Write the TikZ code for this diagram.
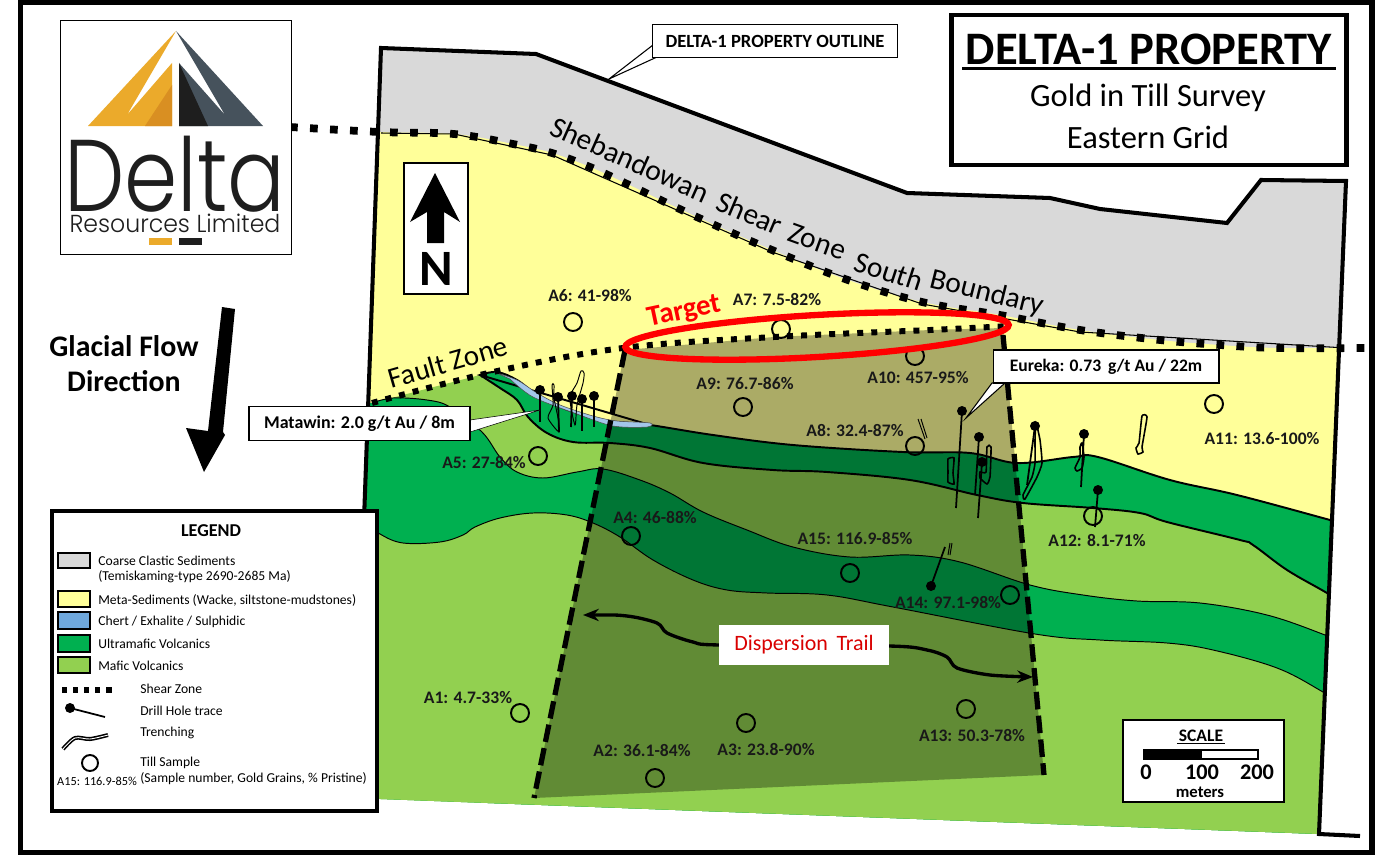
\documentclass[tikz,border=0pt]{standalone}
\usepackage{fontspec}
\setmainfont{Carlito}
\newfontfamily\logofont{Poppins Light}
\usetikzlibrary{arrows.meta}
\definecolor{clastic}{HTML}{D9D9D9}
\definecolor{metased}{HTML}{FFFF99}
\definecolor{chert}{HTML}{A3C6EA}
\definecolor{chertkey}{HTML}{6FA8DC}
\definecolor{ultra}{HTML}{00B050}
\definecolor{mafic}{HTML}{92D050}
\definecolor{logogold}{HTML}{EBAA2B}
\definecolor{logoamber}{HTML}{D98F22}
\definecolor{logoslate}{HTML}{46525C}
\definecolor{logoblack}{HTML}{1E1E1E}
\tikzset{
  sz/.style={font=\fontsize{#1}{#1}\selectfont},
  bsz/.style={font=\bfseries\fontsize{#1}{#1}\selectfont},
  sample/.style={bsz=10,inner sep=0pt,text=black!90},
  till/.style={circle,draw=black,line width=1.1pt,minimum size=.36cm,inner sep=0pt},
  hole/.style={line width=1pt},
  holedot/.style={circle,fill=black,minimum size=.2cm,inner sep=0pt},
  trench/.style={line width=.55pt,draw=black},
  shearline/.style={line width=4.4pt,dash pattern=on 4.4pt off 7pt},
  faultline/.style={line width=3.4pt,dash pattern=on 3.4pt off 4.6pt},
  traillimit/.style={line width=3pt,dash pattern=on 10pt off 3.6pt},
  callout/.style={draw=black,line width=.6pt,fill=white},
  keybox/.style={draw=black,line width=1.4pt},
  keytext/.style={sz=7.75,anchor=west,inner sep=0pt},
  shearword/.style={sz=16.8,anchor=base west,inner sep=0pt},
}
\def\bound{(381,48) -- (536,54) -- (907,193) -- (1050,198) -- (1100,209) -- (1227,223) -- (1261,180) -- (1346,181) -- (1319,834)}
\def\shearcurve{plot[smooth,tension=.6] coordinates {(290,127) (380,132) (454,134) (513,144) (552,153) (590,167) (625,183) (699,218) (772,250) (845,279) (922,302) (1000,315) (1080,330) (1160,340) (1220,345) (1277,348) (1365,348)}}
\def\faultcurve{plot[smooth,tension=.6] coordinates {(372,403) (493,372) (623,348) (774,337) (930,330) (1010,326)}}
\def\linetop{-- plot[smooth,tension=.6] coordinates {(480,375) (497,372) (517,380) (537,395) (560,407) (593,418) (617,422) (650,425) (713,435) (793,445) (903,452) (970,453) (1017,463) (1073,457) (1098,457) (1170,480) (1237,495) (1330,520) (1365,530)}}
\def\lineB{-- plot[smooth,tension=.6] coordinates {(480,375) (500,388) (517,400) (528,417) (547,433) (573,442) (610,443) (650,448) (703,463) (773,470) (827,472) (910,480) (977,495) (1023,503) (1093,508) (1140,513) (1167,522) (1240,540) (1253,545) (1287,570) (1327,593) (1365,616)}}
\def\lineC{-- plot[smooth,tension=.6] coordinates {(372,403) (393,398) (427,400) (450,407) (482,432) (500,457) (517,472) (543,478) (577,472) (603,469) (640,480) (670,493) (703,512) (747,530) (793,547) (850,557) (910,555) (960,562) (1030,585) (1083,595) (1137,601) (1200,603) (1267,615) (1325,635) (1365,652)}}
\def\lineD{-- plot[smooth,tension=.6] coordinates {(362,520) (380,534) (403,543) (440,542) (463,535) (475,527) (500,518) (533,513) (567,515) (593,523) (620,537) (653,560) (693,580) (727,590) (767,593) (827,595) (893,607) (1035,634) (1100,640) (1167,643) (1213,650) (1277,668) (1323,692) (1365,718)}}
\begin{document}
\begin{tikzpicture}[x=.02cm,y=-.02cm]
\useasboundingbox (0,0) rectangle (1375,855);
\fill[white] (0,0) rectangle (1375,855);

% geology
\begin{scope}
\clip \bound -- (354,798) -- cycle;
\fill[clastic] (300,20) rectangle (1400,900);
\fill[metased] \shearcurve -- (1400,348) -- (1400,900) -- (290,900) -- cycle;
\fill[ultra] (480,900) -- (480,375) \linetop -- (1400,900) -- cycle;
\fill[mafic] (300,420) -- (372,403) -- (480,375) \lineB -- (1400,900) -- (300,900) -- cycle;
\fill[ultra] (300,403) -- (372,403) \lineC -- (1400,900) -- (300,900) -- cycle;
\fill[mafic] (300,520) -- (362,520) \lineD -- (1400,900) -- (300,900) -- cycle;
\draw[line width=.55pt] (372,403) \lineC;
\draw[line width=.55pt] (362,520) \lineD;
\draw[line width=1.1pt] (650,425) \linetop;
\draw[line width=1.1pt] (480,375) \lineB;
\draw[line width=.6pt] (381,133) -- (454,134) -- (552,155) -- (772,252) -- (922,304) -- (1080,332) -- (1346,348);
\end{scope}

% dispersion trail
\fill[black,fill opacity=.33] (625,350) -- (774,337) -- (930,330) -- (1003,328) -- (1044,775) -- (534,798) -- cycle;
\fill[chert,draw=black!70,line width=.3pt] plot[smooth,tension=.5] coordinates {(494,372) (517,380) (537,393) (560,405) (593,416) (617,421) (650,423) (647,427) (613,426) (577,414) (533,397) (510,379)} -- cycle;

% boundaries
\draw[line width=2.3pt,line join=miter] (364,520) -- \bound -- (1360,836);
\draw[shearline] \shearcurve;
\draw[faultline] \faultcurve;
\draw[traillimit] (625,350) -- (534,798);
\draw[traillimit] (1003,335) -- (1044,775);

% trenches
\draw[trench] plot[smooth cycle,tension=.5] coordinates {(581,371) (577,383) (570,398) (575,425) (577,405) (583,383) (584,373)};
\draw[trench] plot[smooth cycle,tension=.4] coordinates {(552,385) (554,385) (554,398) (558,418) (559,432) (548,418) (553,405)};
\draw[trench] (918,419) -- (925,439) (921,419) -- (927,438);
\draw[trench,line width=.9pt] plot[smooth cycle,tension=.3] coordinates {(948,459) (954,458) (953,473) (954,484) (948,482) (948,472)};
\draw[trench,line width=.9pt] plot[smooth cycle,tension=.3] coordinates {(987,447) (991,447) (990,477) (987,484) (980,478) (980,472) (986,472)};
\draw[trench,line width=.9pt] plot[smooth cycle,tension=.3] coordinates {(1036,423) (1040,440) (1042,463) (1037,477) (1025,499) (1023,495) (1032,477) (1035,463) (1035,440)};
\draw[trench,line width=.9pt] plot[smooth cycle,tension=.3] coordinates {(1082,443) (1084,457) (1082,468) (1077,471) (1075,468) (1080,457) (1080,447)};
\draw[trench,line width=.9pt] plot[smooth cycle,tension=.3] coordinates {(1142,416) (1147,417) (1142,447) (1143,452) (1138,454) (1136,448) (1139,443)};
\draw[trench] (950,543) -- (948,555) (952,543) -- (950,555);

% drill holes
\foreach \top/\bot/\nm in {{(540,390)}/{(540,422)}/ma,{(558,397)}/{(559,432)}/mb,{(572,396)}/{(571,427)}/mc,{(582,399)}/{(582,431)}/md,{(594,396)}/{(594,427)}/me,{(962,411)}/{(956,508)}/ea,{(979,437)}/{(975,495)}/eb,{(982,462)}/{(978,518)}/ec,{(1035,426)}/{(1027,485)}/ed,{(1084,434)}/{(1081,487)}/ee,{(1098,490)}/{(1095,527)}/ef,{(931,586)}/{(945,547)}/eg}{
  \node[holedot] (dh\nm) at \top {};
  \draw[hole] (dh\nm.center) -- \bot;
}

% till samples
\foreach \nm/\px/\py in {a1/520/713,a2/655/778,a3/746/723,a4/631/536,a5/538/456,a6/573/322,a7/781/329,a8/915/446,a9/743/407,a10/915/356,a11/1214/404,a12/1093/516,a13/966/709,a14/1010/595,a15/850/573}{
  \node[till] (\nm) at (\px,\py) {};
}
\node[sample] (la1) at (468,698) {A1: 4.7-33\%};
\node[sample] (la2) at (642,750) {A2: 36.1-84\%};
\node[sample] (la3) at (766,749) {A3: 23.8-90\%};
\node[sample] (la4) at (655,518) {A4: 46-88\%};
\node[sample] (la5) at (484,463) {A5: 27-84\%};
\node[sample] (la6) at (590,296) {A6: 41-98\%};
\node[sample] (la7) at (777,300) {A7: 7.5-82\%};
\node[sample] (la8) at (855,431) {A8: 32.4-87\%};
\node[sample] (la9) at (745,384) {A9: 76.7-86\%};
\node[sample] (la10) at (918,378) {A10: 457-95\%};
\node[sample] (la11) at (1262,439) {A11: 13.6-100\%};
\node[sample] (la12) at (1097,541) {A12: 8.1-71\%};
\node[sample] (la13) at (972,735) {A13: 50.3-78\%};
\node[sample] (la14) at (948,603) {A14: 97.1-98\%};
\node[sample] (la15) at (855,539) {A15: 116.9-85\%};

% target
\draw[red,line width=3.6pt,rotate around={3.3:(817,336)}] (817,336) ellipse (192 and 21);
\node[bsz=16.5,text=red,rotate=12,inner sep=0pt] (target) at (684,312) {Target};
\node[sz=16.5,rotate=16,inner sep=0pt] (faultzone) at (448,362) {Fault Zone};
\node[shearword,rotate=-24] (wsheb) at (548,134) {Shebandowan};
\node[shearword,rotate=-23] (wshear) at (714,209) {Shear};
\node[shearword,rotate=-20] (wzone) at (786,240) {Zone};
\node[shearword,rotate=-18] (wsouth) at (852,270) {South};
\node[shearword,rotate=-14] (wbound) at (928,287) {Boundary};

% trail arrow
\coordinate (trailw) at (583,615);
\coordinate (traile) at (1033,677);
\draw[line width=1.9pt,{Stealth[length=9pt,width=7pt]}-{Stealth[length=9pt,width=7pt]}] plot[smooth,tension=.5] coordinates {(trailw) (627,616) (657,623) (667,633) (693,642) (720,645) (889,646) (927,650) (947,657) (957,668) (990,675) (traile)};
\node[fill=white,text=red!85!black,sz=12.5,minimum width=3.4cm,minimum height=.8cm,inner sep=0pt] (trailbox) at (804,645) {Dispersion\, Trail};

% callouts
\coordinate (outlinetip) at (609,79);
\coordinate (matawintip) at (540,410);
\coordinate (eurekatip) at (966,418);
\draw[callout] (outlinetip) -- (653,45) -- (657,57) -- cycle;
\node[callout,bsz=10.6,minimum width=4.9cm,minimum height=.66cm,inner sep=0pt] (outlinebox) at (775,41) {DELTA-1 PROPERTY OUTLINE};
\draw[callout,line width=.3pt] (matawintip) -- (470,420) -- (470,432) -- cycle;
\node[callout,bsz=10.2,minimum width=4.42cm,minimum height=.68cm,inner sep=0pt] (matawinbox) at (359.5,423.5) {Matawin: 2.0 g/t Au / 8m};
\draw[callout] (eurekatip) -- (992,383) -- (1005,383) -- cycle;
\node[callout,bsz=10,minimum width=4.52cm,minimum height=.66cm,inner sep=0pt] (eurekabox) at (1106,366.5) {Eureka: 0.73\, g/t Au / 22m\hspace{4pt}};

% north arrow
\node[draw=black,line width=1pt,fill=white,minimum width=1.28cm,minimum height=2.62cm,inner sep=0pt] (northbox) at (436,228.5) {};
\fill (435,173) -- (460,222) -- (444,212) -- (444,243) -- (427,243) -- (427,212) -- (410,222) -- cycle;
\node[bsz=29,inner sep=0pt] (north) at (436,269) {N};

% title
\node[draw=black,line width=2.4pt,fill=white,minimum width=7.9cm,minimum height=3cm,inner sep=0pt] (titlebox) at (1149,90) {};
\node[bsz=26.5,inner sep=2pt] (titlemain) at (1149,49) {DELTA-1 PROPERTY};
\draw[line width=1.4pt] (titlemain.south west) -- (titlemain.south east);
\node[sz=18.5,inner sep=0pt] (titlesub) at (1148,98) {Gold in Till Survey};
\node[sz=18.5,inner sep=0pt] (titlegrid) at (1148,137) {Eastern Grid};

% logo
\node[draw=black,line width=.5pt,fill=white,minimum width=4.62cm,minimum height=4.68cm,inner sep=0pt] (logobox) at (175.5,137) {};
\fill[logogold] (176,31) -- (88,126) -- (172,126) -- (172,63) -- (127,115) -- cycle;
\fill[logoamber] (172,85) -- (145,126) -- (172,126) -- cycle;
\fill[logoslate] (176,31) -- (263,126) -- (179,126) -- (179,63) -- (225,115) -- cycle;
\fill[logoblack] (179,63) -- (179,126) -- (208,126) -- cycle;
\node[inner sep=0pt,text=logoblack,xscale=.84,font=\logofont\fontsize{58}{58}\selectfont] (logodelta) at (175,174) {Delta};
\node[inner sep=0pt,text=logoblack,xscale=.96,font=\logofont\fontsize{14}{14}\selectfont] (logores) at (175,223) {Resources Limited};
\fill[logogold] (149,238) rectangle (172,245);
\fill[logoblack] (179,238) rectangle (202,245);

% glacial flow
\node[bsz=17,align=center,inner sep=0pt] (glacial) at (124,346) {Glacial Flow};
\node[bsz=17,inner sep=0pt] (direction) at (124,381) {Direction};
\fill (222,307) -- (235,309) -- (223,432) -- (225,435) -- (204,472) -- (186,428) -- (208,431) -- cycle;

% legend
\node[draw=black,line width=2.4pt,fill=white,minimum width=6.5cm,minimum height=6cm,inner sep=0pt] (legendbox) at (214.5,661) {};
\node[bsz=10.3,inner sep=0pt] (legendtitle) at (211,531) {LEGEND};
\foreach \nm/\col/\ya/\yb in {kclastic/clastic/553/568,kmeta/metased/591/607,kchert/chertkey/612/629,kultra/ultra/635/652,kmafic/mafic/657/673}{
  \draw[keybox,fill=\col] (58,\ya) rectangle (90,\yb);
}
\node[keytext] (tclastic) at (98,561) {Coarse Clastic Sediments};
\node[keytext] (ttemis) at (98,577) {(Temiskaming-type 2690-2685 Ma)};
\node[keytext] (tmeta) at (98,600) {Meta-Sediments (Wacke, siltstone-mudstones)};
\node[keytext] (tchert) at (98,622) {Chert / Exhalite / Sulphidic};
\node[keytext] (tultra) at (98,644) {Ultramafic Volcanics};
\node[keytext] (tmafic) at (98,666) {Mafic Volcanics};
\node[keytext] (tshear) at (140,689) {Shear Zone};
\node[keytext] (tdrill) at (140,711) {Drill Hole trace};
\node[keytext] (ttrench) at (140,733) {Trenching};
\node[keytext] (ttill) at (140,763) {Till Sample};
\node[keytext] (tsampnote) at (140,779) {(Sample number, Gold Grains, \% Pristine)};
\draw[line width=3pt,dash pattern=on 3pt off 3.3pt] (62,690) -- (117,690);
\node[holedot] (kdrill) at (70,708) {};
\draw[hole] (kdrill.center) -- (105,717);
\draw[line width=.9pt,double=white,double distance=.5pt] plot[smooth,tension=.5] coordinates {(63,749) (75,738) (90,739) (108,735)};
\node[till,minimum size=.32cm] (ktill) at (90,763) {};
\node[sz=7,inner sep=0pt] (ka15) at (97,781) {A15: 116.9-85\%};

% scale
\node[draw=black,line width=1.4pt,fill=white,minimum width=3.22cm,minimum height=1.64cm,inner sep=0pt] (scalebox) at (1203.5,761) {};
\node[bsz=10,inner sep=1pt] (scaletitle) at (1201,736) {SCALE};
\draw[line width=.6pt] (scaletitle.south west) -- (scaletitle.south east);
\draw[line width=.7pt,fill=white] (1144,750) rectangle (1258,759);
\fill (1144,750) rectangle (1202,759);
\node[bsz=12.7,inner sep=0pt] (sc0) at (1146,772) {0};
\node[bsz=12.7,inner sep=0pt] (sc100) at (1202,772) {100};
\node[bsz=12.7,inner sep=0pt] (sc200) at (1257,772) {200};
\node[bsz=9.5,inner sep=0pt] (scmeters) at (1200,792) {meters};

% frame
\draw[line width=2.9pt] (20.5,2) rectangle (1372,852.5);
\end{tikzpicture}
\end{document}
